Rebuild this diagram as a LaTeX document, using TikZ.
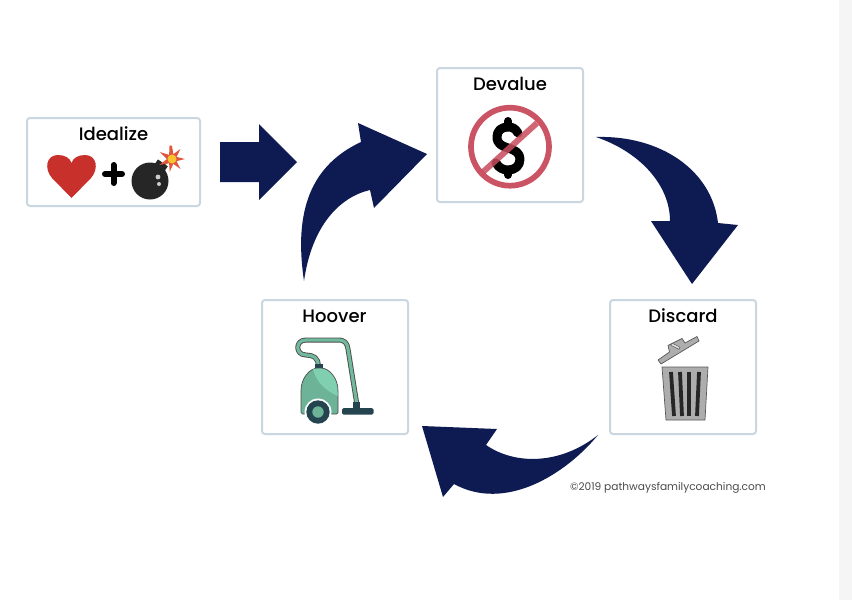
\documentclass[tikz,border=0pt]{standalone}
\usepackage{fontspec}
\usetikzlibrary{calc}
\setmainfont{Poppins}
\newfontfamily\titlefont{Poppins Medium}
\definecolor{navy}{HTML}{0D1B52}
\definecolor{cardline}{HTML}{CAD6E0}
\definecolor{heartred}{HTML}{C8302C}
\definecolor{ringred}{HTML}{C84B5C}
\definecolor{vacg}{HTML}{6DB397}
\definecolor{vacl}{HTML}{7FCFB0}
\definecolor{vacd}{HTML}{24454F}
\definecolor{sparkred}{HTML}{E2553D}
\definecolor{sparkyellow}{HTML}{F9C22E}
\tikzset{
  card/.style={draw=cardline,line width=2pt,rounded corners=3pt,fill=white},
  cardtitle/.style={font=\titlefont\fontsize{18}{20}\selectfont,text=black,anchor=center},
  bigarrow/.style={fill=navy,draw=none},
  credit/.style={font=\fontsize{10.6}{13}\selectfont,text=black!70,anchor=center}
}
\begin{document}
\begin{tikzpicture}[x=1pt,y=-1pt]
\useasboundingbox (0,0) rectangle (852,600);
\fill[white] (0,0) rectangle (852,600);
\fill[black!4] (839,0) rectangle (852,600);
% cards
\draw[card] (27,118) rectangle (200,206);
\draw[card] (437,68) rectangle (583,202);
\draw[card] (262,300) rectangle (408,434);
\draw[card] (610,300) rectangle (756,434);
\node[cardtitle] (idealize) at (113.5,134) {Idealize};
\node[cardtitle] (devalue) at (510,84) {Devalue};
\node[cardtitle] (hoover) at (334.5,316) {Hoover};
\node[cardtitle] (discard) at (683,316) {Discard};
% block arrow
\fill[bigarrow] (220,142)--(259,142)--(259,124)--(297,162)--(259,200)--(259,182)--(220,182)--cycle;
% curved arrow Hoover->Devalue
\fill[bigarrow] (304,281) .. controls (295,220) and (305,168) .. (361,142) -- (358,123) -- (427,154) -- (374,208) -- (370,190)
 .. controls (340,197) and (312,225) .. (304,281) -- cycle;
% curved arrow Devalue->Discard
\fill[bigarrow] (596,137) .. controls (660,135) and (712,170) .. (718,223) -- (738,225) -- (692,284) -- (651,221) -- (670,221)
 .. controls (670,185) and (640,152) .. (596,137) -- cycle;
% curved arrow Discard->Hoover
\fill[bigarrow] (598,435) .. controls (565,475) and (505,512) .. (454,484) -- (443,497) -- (422,426) -- (497,429) -- (486,445)
 .. controls (515,465) and (560,465) .. (598,435) -- cycle;
% heart
\fill[heartred] (71.5,198) -- (52,178) .. controls (44,169) and (46,155) .. (58,155) .. controls (65,155) and (70,158) .. (71.5,163)
 .. controls (73,158) and (78,155) .. (85,155) .. controls (97,155) and (99,169) .. (91,178) -- cycle;
% plus
\draw[black,line width=6pt,line cap=round] (105,174) -- (122,174) (113.5,165) -- (113.5,183);
% bomb
\draw[black!35!orange!70!white,line width=2.4pt] (160,167) -- (172,159);
\fill[black!85,rotate around={-35:(160,167)}] (154,162) rectangle (166,172);
\fill[black!85] (150,181) circle (18.5);
\fill[white!80!black] (158,177) circle (2.4);
\fill[white!80!black] (159,184) circle (2);
\fill[sparkred] (172,146)
  \foreach \a/\r in {15/5,40/13,65/5,90/13,115/5,140/13,165/5,190/13,215/5,245/14,270/5,300/14,325/5,350/14}{ -- ($(172,159)+(\a-90:\r)$) } -- cycle;
\fill[sparkyellow] (172,159) circle (4.5);
% dollar
\draw[black,line width=9pt,line cap=round,line join=round] (518,133) .. controls (515,128) and (512,127) .. (508,127) .. controls (501,127) and (497,131) .. (497,137) .. controls (497,144) and (502,146) .. (508,148) .. controls (515,150) and (520,153) .. (520,159) .. controls (520,166) and (515,170) .. (508,170) .. controls (503,170) and (499,168) .. (496,163);
\draw[black,line width=8pt,line cap=round] (508,121) -- (508,127) (508,170) -- (508,175);
% no ring
\draw[ringred,line width=5.7pt,opacity=.95] (510,146.7) circle (39);
\draw[ringred,opacity=.85,line width=6pt] (483,172) -- (537,123);
% vacuum
\draw[black!70,line width=5pt,line join=round] (318,366) .. controls (319,358) and (313,355) .. (306,355) .. controls (295,355) and (295,340) .. (306,340) -- (338,340) .. controls (345,340) and (347,343) .. (348,349) -- (357,405);
\draw[vacg!80!vacl,line width=3.2pt,line join=round] (318,366) .. controls (319,358) and (313,355) .. (306,355) .. controls (295,355) and (295,340) .. (306,340) -- (338,340) .. controls (345,340) and (347,343) .. (348,349) -- (357,405);
\fill[vacd] (315,364) rectangle (323,369);
\filldraw[fill=vacg,draw=black!70,line width=.7pt,rounded corners=1.5pt] (301,414) -- (301,392) .. controls (301,378) and (310,368) .. (319.5,368) .. controls (329,368) and (338,378) .. (338,392) -- (338,414) -- cycle;
\fill[vacl] (313,369) .. controls (316,382) and (325,390) .. (337.5,396) -- (337.5,392) .. controls (337.5,378) and (329,368.5) .. (319.5,368.5) .. controls (317,368.5) and (315,368.5) .. (313,369) -- cycle;
\fill[white] (318,412) circle (13.5);
\fill[vacd] (318,412) circle (11.7);
\fill[vacg] (318,412) circle (5.7);
\fill[vacd] (353,402) rectangle (360,408);
\fill[vacd,rounded corners=1.5pt] (342,408) rectangle (373.5,414.5);
% trash can
\filldraw[fill=black!32,draw=black!65,line width=.7pt] (662,367) -- (708,367) -- (705,420) -- (666,420) -- cycle;
\foreach \xa/\xb in {671/674,680/682,689/689,699/697}{
  \draw[black!85,line width=3.8pt] (\xa,372) -- (\xb,416);
}
\filldraw[fill=black!32,draw=black!65,line width=.7pt,line join=round] (658,360) -- (661,364) -- (699,341) -- (697,336.5) -- (685,343) -- (682,338.5) -- (668,345.5) -- (669.5,352) -- cycle;
\filldraw[fill=black!12,draw=black!65,line width=.5pt,rotate around={-27:(675,346)}] (671,344.8) rectangle (680,347.2);
% credit
\node[credit] (copy) at (668,488) {©2019 pathwaysfamilycoaching.com};
\end{tikzpicture}
\end{document}
